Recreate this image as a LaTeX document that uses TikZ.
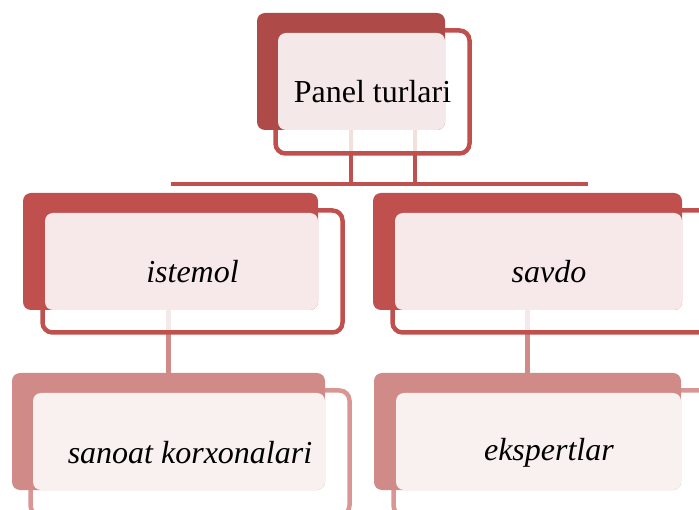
\documentclass[tikz,border=0pt]{standalone}
\usepackage{fontspec}
\setmainfont{Liberation Serif}
\usepackage{xcolor}
\usepackage{tikz}
\usetikzlibrary{positioning, backgrounds}
\definecolor{topred}{HTML}{AE4A48}
\definecolor{midred}{HTML}{C0504D}
\definecolor{lowred}{HTML}{D08A88}
\definecolor{lowline}{HTML}{D99694}
\tikzstyle{back} = [rectangle, rounded corners=8pt, inner sep=0pt, draw=none]
\tikzstyle{frame} = [rectangle, rounded corners=10pt, inner sep=0pt, line width=4.5pt, fill=white, fill opacity=0.82, draw opacity=1]
\tikzstyle{glass} = [rectangle, rounded corners=8pt, inner sep=0pt, fill=white, fill opacity=0.88]
\tikzstyle{caption} = [font=\fontsize{32}{38}\selectfont, text=black]
\tikzstyle{link} = [line width=5pt, color=midred]

\begin{document}
\begin{tikzpicture}[x=1pt, y=-1pt]
    \useasboundingbox (0,0) rectangle (699,510);
    % top
    \node (panel-frame) [frame, draw=midred, minimum width=194pt, minimum height=123pt] at (372.5,92) {};
    \node (panel-back) [back, fill=topred, minimum width=188pt, minimum height=117pt] at (351,71.5) {};
    \node (panel-glass) [glass, minimum width=167pt, minimum height=97pt] at (361.5,81.5) {};
    \node (panel) [caption] at (panel-frame.center) {Panel turlari};
    % level 2
    \node (istemol-frame) [frame, draw=midred, minimum width=300pt, minimum height=122pt] at (192.5,271.5) {};
    \node (istemol-back) [back, fill=midred, minimum width=295pt, minimum height=117pt] at (170.5,251.5) {};
    \node (istemol-glass) [glass, minimum width=273pt, minimum height=97pt] at (181.5,261.5) {};
    \node (istemol) [caption] at (istemol-frame.center) {\textit{istemol}};
    \node (savdo-frame) [frame, draw=midred, minimum width=320pt, minimum height=122pt] at (552.5,271.5) {};
    \node (savdo-back) [back, fill=midred, minimum width=309pt, minimum height=117pt] at (527.5,251.5) {};
    \node (savdo-glass) [glass, minimum width=287pt, minimum height=97pt] at (538.5,261.5) {};
    \node (savdo) [caption] at ([xshift=-3.5pt]savdo-frame.center) {\textit{savdo}};
    % level 3
    \node (sanoat-frame) [frame, draw=lowline, minimum width=319pt, minimum height=125pt] at (190,453) {};
    \node (sanoat-back) [back, fill=lowred, minimum width=313pt, minimum height=117pt] at (168.5,431.5) {};
    \node (sanoat-glass) [glass, minimum width=292pt, minimum height=97pt] at (179,441.5) {};
    \node (sanoat) [caption] at (sanoat-frame.center) {\textit{sanoat korxonalari}};
    \node (ekspert-frame) [frame, draw=lowline, minimum width=320pt, minimum height=125pt] at (553.5,453) {};
    \node (ekspert-back) [back, fill=lowred, minimum width=307pt, minimum height=117pt] at (527.5,431.5) {};
    \node (ekspert-glass) [glass, minimum width=285pt, minimum height=97pt] at (538.5,441.5) {};
    \node (ekspert) [caption] at ([xshift=-4.5pt]ekspert-frame.center) {\textit{ekspertlar}};

    \begin{scope}[on background layer]
        \draw [link, line width=4.5pt] ([xshift=64pt]panel-back.south) |- ([yshift=9pt]istemol-back.north);
        \draw [link, line width=4.5pt] (panel-back.south) |- ([xshift=60.5pt, yshift=9pt]savdo-back.north);
        \draw [link, color=lowred] ([xshift=-2pt]istemol-back.south) -- ([xshift=-2pt]istemol-back.south |- sanoat-back.north);
        \draw [link, color=lowred] (savdo-back.south) -- (savdo-back.south |- ekspert-back.north);
    \end{scope}
\end{tikzpicture}
\end{document}
